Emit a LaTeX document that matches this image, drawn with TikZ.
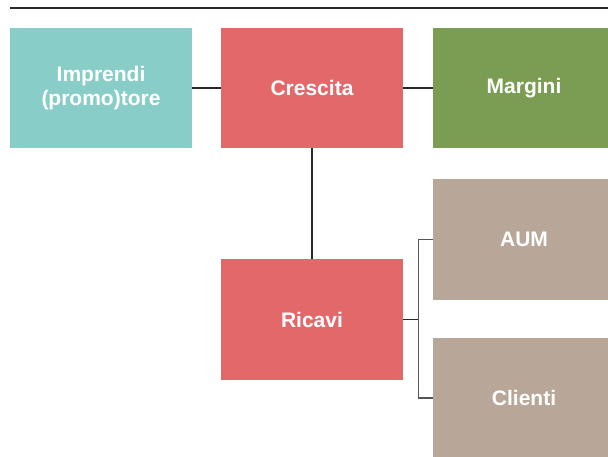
\documentclass[tikz,border=0pt]{standalone}
\usepackage{fontspec}
\setmainfont{Liberation Sans}
\definecolor{tealbox}{RGB}{137,205,200}
\definecolor{redbox}{RGB}{227,104,106}
\definecolor{greenbox}{RGB}{123,157,83}
\definecolor{taupebox}{RGB}{184,167,152}
\definecolor{linkgray}{RGB}{40,40,40}
\definecolor{bracketgray}{RGB}{85,85,85}
\tikzset{
  block/.style={rectangle, minimum width=182pt, minimum height=120pt,
    inner sep=0pt, text=white, align=center,
    font=\fontsize{21}{24}\selectfont\bfseries},
  link/.style={draw=linkgray, line width=1.2pt},
  bracket/.style={draw=bracketgray, line width=1.5pt},
}
\begin{document}
\begin{tikzpicture}[x=1pt,y=-1pt]
  \useasboundingbox (0,0) rectangle (608,457);
  \clip (0,0) rectangle (608,457);
  % header rule
  \coordinate (ruleL) at (10,8);
  \coordinate (ruleR) at (608,8);
  \draw[draw=linkgray, line width=1.3pt] (ruleL) -- (ruleR);
  % top row
  \node[block, fill=tealbox]  (imp) at (101,88) {Imprendi\\(promo)tore};
  \node[block, fill=redbox]   (cre) at (312,88) {Crescita};
  \node[block, fill=greenbox] (mar) at (524,88) {Margini};
  % lower branch
  \node[block, fill=redbox]   (ric) at (312,319.5) {Ricavi};
  \node[block, fill=taupebox] (aum) at (524,239.5) {AUM};
  \node[block, fill=taupebox] (cli) at (524,398) {Clienti};
  % connectors
  \draw[link] (imp.east) -- (cre.west);
  \draw[link] (cre.east) -- (mar.west);
  \draw[link] (cre.south) -- (ric.north);
  \coordinate (fork) at (418.5,319.5);
  \draw[link] (ric.east) -- (fork);
  \draw[bracket] (aum.west) -| (fork) |- (cli.west);
\end{tikzpicture}
\end{document}
